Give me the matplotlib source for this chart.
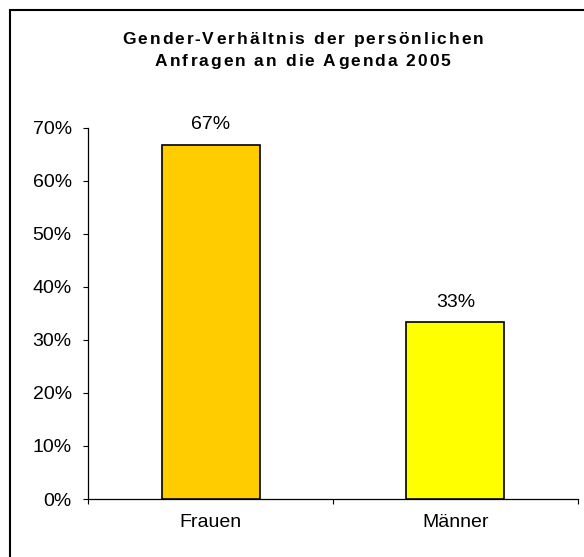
import matplotlib.pyplot as plt
from matplotlib.patches import Rectangle
from matplotlib.ticker import FuncFormatter
from matplotlib.ft2font import FT2Font
from matplotlib.font_manager import FontProperties, findfont

plt.rcParams['font.family'] = ['Liberation Sans', 'DejaVu Sans']

kategorien = ['Frauen', 'Männer']
anteile = [66.7, 33.3]
beschriftung = ['67%', '33%']
farben = ['#FFCC00', '#FFFF00']
titel = ['Gender-Verhältnis der persönlichen', 'Anfragen an die Agenda 2005']

W, H = 584, 557
fig = plt.figure(figsize=(W / 100, H / 100), dpi=100)
ax = fig.add_axes([88.3 / W, 1 - 499 / H, 489.4 / W, 371.5 / H])

x = range(len(kategorien))
bars = ax.bar(x, anteile, width=0.40, color=farben, edgecolor='black', linewidth=1.2, zorder=3)

for b, t in zip(bars, beschriftung):
    ax.annotate(t, (b.get_x() + b.get_width() / 2, b.get_height()),
                xytext=(0, 11.3), textcoords='offset points', ha='center', va='baseline', fontsize=14)

ax.set_xlim(-0.5, 1.5)
ax.set_ylim(0, 70)
ax.set_yticks(range(0, 71, 10))
ax.yaxis.set_major_formatter(FuncFormatter(lambda v, p: '%d%%' % v))
ax.set_xticks([-0.5, 0.5, 1.5])
ax.set_xticklabels([])
ax.set_xticks(list(x), minor=True)
ax.set_xticklabels(kategorien, minor=True)
ax.tick_params(axis='x', which='minor', length=0, pad=10.5, labelsize=14)
ax.tick_params(axis='x', which='major', length=3.6, direction='out', width=0.8)
ax.tick_params(axis='y', length=3.6, direction='out', width=0.8, labelsize=14, pad=8.4)
ax.spines['top'].set_visible(False)
ax.spines['right'].set_visible(False)
for s in ['left', 'bottom']:
    ax.spines[s].set_linewidth(0.9)


# Excel-Titel mit gesperrter Schrift: Buchstaben einzeln setzen
def gesperrt(text, cx, basis, size, spur):
    prop = FontProperties(family='Liberation Sans', weight='bold', size=size)
    font = FT2Font(findfont(prop))
    font.set_size(size, 100)
    adv, lsb = [], []
    for c in text:
        g = font.load_char(ord(c))
        adv.append(g.linearHoriAdvance / 65536)
        lsb.append(g.horiBearingX / 64)
    xp = cx - (sum(adv) + spur * (len(text) - 1)) / 2
    for c, a, l in zip(text, adv, lsb):
        if c != ' ':
            fig.text((xp + l) / W, 1 - basis / H, c, ha='left', va='baseline', fontproperties=prop)
        xp += a + spur


for zeile, basis in zip(titel, [44.0, 66.0]):
    gesperrt(zeile, 302, basis, 12.5, 2.0)

rahmen = Rectangle((10 / W, -0.1), 1.2, 1 - 10 / H + 0.1, transform=fig.transFigure,
                   fill=False, edgecolor='black', linewidth=1.5, clip_on=False)
fig.patches.append(rahmen)

fig.savefig('out.png', dpi=100)
